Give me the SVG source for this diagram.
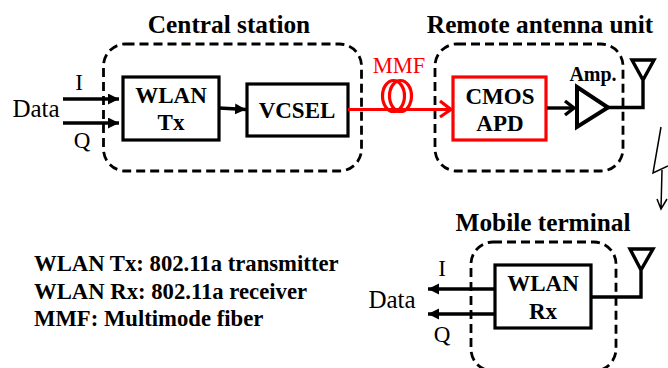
<svg xmlns="http://www.w3.org/2000/svg" width="668" height="368" viewBox="0 0 668 368">
<defs>
<marker id="ah" markerUnits="userSpaceOnUse" markerWidth="13" markerHeight="13" refX="11" refY="5.500" orient="auto"><path d="M0 0L11 5.500L0 11Z" fill="#000"/></marker>
<marker id="ahr" markerUnits="userSpaceOnUse" markerWidth="13" markerHeight="13" refX="11" refY="5.500" orient="auto"><path d="M0 0L11 5.500L0 11Z" fill="#000"/></marker>
</defs>
<style>
text{font-family:"Liberation Serif","Times New Roman",serif;fill:#000}
.b{font-weight:bold}
.t{font-size:25.300px;font-weight:bold;text-anchor:middle}
.n{font-size:23px;font-weight:bold;text-anchor:middle}
.l{font-size:25px}
.s{font-size:23px}
.k{font-size:22.700px;font-weight:bold}
.box{fill:none;stroke:#000;stroke-width:3.200}
.dash{fill:none;stroke:#000;stroke-width:2.800;stroke-dasharray:9 5}
.w{fill:none;stroke:#000;stroke-width:3.400}
.r{fill:none;stroke:#f00;stroke-width:3.200}
</style>
<rect width="668" height="368" fill="#fff"/>
<g id="central-station">
<rect class="dash" x="103.500" y="44" width="258" height="127" rx="22"/>
<text class="t" x="229" y="33">Central station</text>
</g>
<g id="wlan-tx">
<rect class="box" x="123" y="77" width="96" height="63"/>
<text class="n" x="171" y="103">WLAN</text><text class="n" x="171" y="130">Tx</text>
</g>
<g id="vcsel">
<rect class="box" x="247" y="84" width="101" height="52"/>
<text class="n" x="297" y="118">VCSEL</text>
</g>
<g id="remote-antenna-unit">
<rect class="dash" x="435" y="44" width="188" height="127" rx="22"/>
<text class="t" x="540" y="33">Remote antenna unit</text>
</g>
<g id="cmos-apd">
<rect x="453" y="77" width="93" height="63" fill="none" stroke="#f00" stroke-width="3.200"/>
<text class="n" x="500" y="104">CMOS</text><text class="n" x="500" y="131">APD</text>
</g>
<g id="amp">
<path d="M577 87L608 107.500L577 127Z" fill="none" stroke="#000" stroke-width="4"/>
<text x="593" y="81" font-size="20" class="b" text-anchor="middle">Amp.</text>
</g>
<g id="antenna-top">
<path class="w" d="M632 60H654L643 80ZM643 80V107.500H608"/>
</g>
<g id="mobile-terminal">
<rect class="dash" x="471" y="242" width="145" height="129" rx="22"/>
<text class="t" x="543" y="231">Mobile terminal</text>
</g>
<g id="wlan-rx">
<rect class="box" x="495" y="265" width="96" height="63"/>
<text class="n" x="543" y="291">WLAN</text><text class="n" x="543" y="319">Rx</text>
</g>
<g id="antenna-bottom">
<path class="w" d="M630 249H653L641 270ZM641 270V297H591"/>
</g>
<g id="fiber">
<text x="399" y="73" font-size="22.500" style="fill:#f00" text-anchor="middle">MMF</text>
<ellipse class="r" cx="393.500" cy="96" rx="11" ry="15.500"/>
<ellipse class="r" cx="400.500" cy="96" rx="11" ry="15.500"/>
</g>
<g id="connectors">
<path class="w" d="M63 99H119" marker-end="url(#ah)"/>
<path class="w" d="M63 123H119" marker-end="url(#ah)"/>
<path class="w" d="M219 108L246 109.500" marker-end="url(#ah)"/>
<path d="M348 109.500H451" fill="none" stroke="#f00" stroke-width="3.200"/>
<path d="M440 101L451 109.500L440 117" fill="none" stroke="#f00" stroke-width="3.200"/>
<path d="M547 108H574" class="w"/>
<path d="M565 101L574 108L565 115" class="w"/>
<path class="w" d="M495 289H428" marker-end="url(#ahr)"/>
<path class="w" d="M495 314H428" marker-end="url(#ahr)"/>
<path d="M661 127L653 173L668 166" fill="none" stroke="#000" stroke-width="1.500"/>
<path d="M662 170L661 209M657 199L661 209L667 199" fill="none" stroke="#000" stroke-width="1.500"/>
</g>
<g id="labels">
<text class="s" x="79" y="90" text-anchor="middle">I</text>
<text class="l" x="36" y="117" text-anchor="middle">Data</text>
<text class="s" x="82" y="148" text-anchor="middle">Q</text>
<text class="s" x="442" y="276" text-anchor="middle">I</text>
<text class="l" x="392" y="308" text-anchor="middle">Data</text>
<text class="s" x="442" y="342" text-anchor="middle">Q</text>
<text class="k" x="34" y="271">WLAN Tx: 802.11a transmitter</text>
<text class="k" x="34" y="299">WLAN Rx: 802.11a receiver</text>
<text class="k" x="34" y="326">MMF: Multimode fiber</text>
</g>
</svg>
